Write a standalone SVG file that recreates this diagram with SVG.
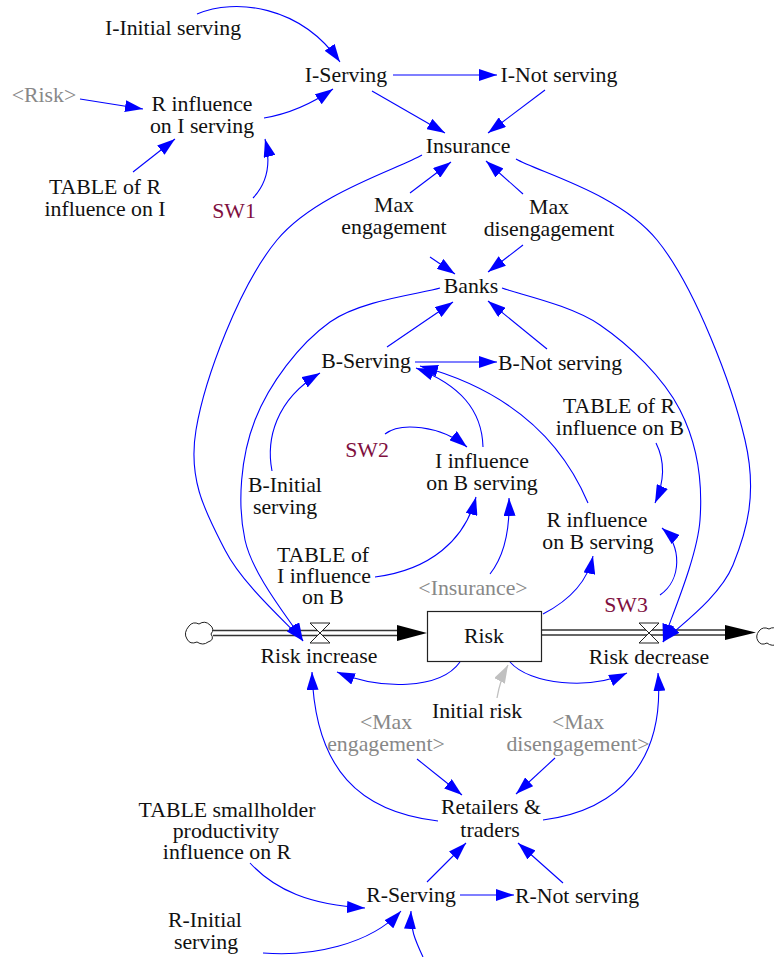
<svg xmlns="http://www.w3.org/2000/svg" width="774" height="957" viewBox="0 0 774 957">
<style>
text{font-family:"Liberation Serif","Times New Roman",serif;font-size:21.8px;text-anchor:middle;fill:#111}
.g{fill:#888}
.sw{fill:#80103f}
.c path{fill:none;stroke:#0000ff;stroke-width:1.1}
.c path.gr{stroke:#c0c0c0;stroke-width:1.3}
.pipe{stroke:#333;stroke-width:1.4}
</style>
<defs>
<marker id="a" viewBox="0 0 18 12" refX="18" refY="6" markerWidth="18" markerHeight="12" markerUnits="userSpaceOnUse" orient="auto"><path d="M0,0 L18,6 L0,12 z" fill="#0000ff"/></marker>
<marker id="ag" viewBox="0 0 18 12" refX="18" refY="6" markerWidth="18" markerHeight="12" markerUnits="userSpaceOnUse" orient="auto"><path d="M0,0 L18,6 L0,12 z" fill="#c0c0c0"/></marker>
</defs>
<rect width="774" height="957" fill="#fff"/>

<g id="flows">
<path d="M189,626 Q193,621 199,624 Q205,620 210,625 Q215,629 211,634 Q215,640 208,642 Q203,646 197,642 Q190,645 187,639 Q183,633 189,626 Z" fill="#fff" stroke="#222" stroke-width="1"/>
<line class="pipe" x1="213" y1="630.5" x2="400" y2="630.5"/>
<line class="pipe" x1="213" y1="635.5" x2="400" y2="635.5"/>
<path d="M397,625 L427,633 L397,641 Z" fill="#000"/>
<path d="M310,623 L330,623 L310,643 L330,643 Z" fill="#fff" stroke="#222" stroke-width="1"/>
<line class="pipe" x1="542" y1="630" x2="728" y2="630"/>
<line class="pipe" x1="542" y1="635" x2="728" y2="635"/>
<path d="M725,625 L756,632.5 L725,640 Z" fill="#000"/>
<path d="M639,623 L659,623 L639,643 L659,643 Z" fill="#fff" stroke="#222" stroke-width="1"/>
<path d="M759,631 Q763,626 769,629 Q774,626 778,630 L778,644 Q772,647 767,643 Q761,646 758,641 Q755,636 759,631 Z" fill="#fff" stroke="#222" stroke-width="1"/>
</g>

<g class="c" id="connectors">
<path d="M197,14 C235,-2 300,5 340,62" marker-end="url(#a)"/>
<path d="M80,99 L143,109" marker-end="url(#a)"/>
<path d="M264,118 Q300,112 333,89" marker-end="url(#a)"/>
<path d="M133,172 L175,139" marker-end="url(#a)"/>
<path d="M253,198 C270,180 270,158 265,139" marker-end="url(#a)"/>
<path d="M393,75 L497,75" marker-end="url(#a)"/>
<path d="M372,91 L445,133" marker-end="url(#a)"/>
<path d="M545,90 L488,133" marker-end="url(#a)"/>
<path d="M410,193 L451,162" marker-end="url(#a)"/>
<path d="M523,194 L486,161" marker-end="url(#a)"/>
<path d="M422,155 C398,169 314.7,194.2 277,240 C239.3,285.8 204.7,378.3 196,430 C187.3,481.7 207.2,514.8 225,550 C242.8,585.2 290,625.8 303,641" marker-end="url(#a)"/>
<path d="M516,159 C539.5,172.5 618.8,193.2 657,240 C695.2,286.8 732.3,385.8 745,440 C757.7,494.2 746.7,531.3 733,565 C719.3,598.7 674.7,629.2 663,642" marker-end="url(#a)"/>
<path d="M440,288 C421.7,293.7 360.8,300 330,322 C299.2,344 269.2,383.7 255,420 C240.8,456.3 237,503.2 245,540 C253,576.8 293.3,624.2 303,641" marker-end="url(#a)"/>
<path d="M502,288 C518.3,294.2 570.3,304.7 600,325 C629.7,345.3 663.3,377.5 680,410 C696.7,442.5 702.8,481.3 700,520 C697.2,558.7 669.2,621.7 663,642" marker-end="url(#a)"/>
<path d="M430,257 L455,274" marker-end="url(#a)"/>
<path d="M523,245 L488,272" marker-end="url(#a)"/>
<path d="M387,347 L453,302" marker-end="url(#a)"/>
<path d="M547,349 L488,301" marker-end="url(#a)"/>
<path d="M415,362 L497,362" marker-end="url(#a)"/>
<path d="M272,471 C266,440 275,400 320,373" marker-end="url(#a)"/>
<path d="M483,447 C482,410 460,385 416,368" marker-end="url(#a)"/>
<path d="M588,503 C555,425 490,385 420,366" marker-end="url(#a)"/>
<path d="M385,434 C400,422 440,425 467,447" marker-end="url(#a)"/>
<path d="M375,577 C430,570 465,540 476,497" marker-end="url(#a)"/>
<path d="M490,574 C505,555 510,530 509,498" marker-end="url(#a)"/>
<path d="M656,443 C667,465 663,485 655,503" marker-end="url(#a)"/>
<path d="M660,595 C682,580 682,545 662,528" marker-end="url(#a)"/>
<path d="M543,614 C570,600 588,580 593,556" marker-end="url(#a)"/>
<path d="M460,662 C440,690 380,690 337,672" marker-end="url(#a)"/>
<path d="M510,662 C530,685 590,690 627,673" marker-end="url(#a)"/>
<path class="gr" d="M497,698 Q500,680 508,665" marker-end="url(#ag)"/>
<path d="M438,821 C360,812 315,770 312,672" marker-end="url(#a)"/>
<path d="M543,820 C620,810 665,760 658,673" marker-end="url(#a)"/>
<path d="M417,759 L462,795" marker-end="url(#a)"/>
<path d="M555,758 L516,794" marker-end="url(#a)"/>
<path d="M427,882 L466,843" marker-end="url(#a)"/>
<path d="M563,883 L518,843" marker-end="url(#a)"/>
<path d="M460,895 L514,895" marker-end="url(#a)"/>
<path d="M250,863 C275,890 310,905 365,908" marker-end="url(#a)"/>
<path d="M263,953 C310,957 370,945 401,911" marker-end="url(#a)"/>
<path d="M423,957 C415,940 410,928 411,911" marker-end="url(#a)"/>
</g>

<g id="n-i-initial"><text x="173" y="35">I-Initial serving</text></g>
<g id="n-i-serving"><text x="346" y="82">I-Serving</text></g>
<g id="n-i-not"><text x="559" y="82">I-Not serving</text></g>
<g id="n-risk-shadow1"><text class="g" x="44" y="102">&lt;Risk&gt;</text></g>
<g id="n-r-inf-i"><text x="202" y="111">R influence</text><text x="202" y="133">on I serving</text></g>
<g id="n-table-r-i"><text x="105" y="194">TABLE of R</text><text x="105" y="216">influence on I</text></g>
<g id="n-sw1"><text class="sw" x="234" y="218">SW1</text></g>
<g id="n-insurance"><text x="468" y="153">Insurance</text></g>
<g id="n-max-eng"><text x="394" y="212">Max</text><text x="394" y="234">engagement</text></g>
<g id="n-max-dis"><text x="549" y="214">Max</text><text x="549" y="236">disengagement</text></g>
<g id="n-banks"><text x="471" y="293">Banks</text></g>
<g id="n-b-serving"><text x="366" y="368">B-Serving</text></g>
<g id="n-b-not"><text x="560" y="370">B-Not serving</text></g>
<g id="n-table-r-b"><text x="619" y="413">TABLE of R</text><text x="620" y="435">influence on B</text></g>
<g id="n-sw2"><text class="sw" x="367" y="457">SW2</text></g>
<g id="n-i-inf-b"><text x="482" y="468">I influence</text><text x="482" y="490">on B serving</text></g>
<g id="n-b-initial"><text x="285" y="492">B-Initial</text><text x="285" y="514">serving</text></g>
<g id="n-r-inf-b"><text x="597" y="527">R influence</text><text x="598" y="549">on B serving</text></g>
<g id="n-table-i-b"><text x="323" y="562">TABLE of</text><text x="324" y="583">I influence</text><text x="323" y="604">on B</text></g>
<g id="n-insurance-shadow"><text class="g" x="473" y="595">&lt;Insurance&gt;</text></g>
<g id="n-sw3"><text class="sw" x="626" y="612">SW3</text></g>
<g id="n-risk"><rect x="427.5" y="611.5" width="114" height="50" fill="#fff" stroke="#222" stroke-width="1.2"/><text x="484" y="643">Risk</text></g>
<g id="n-risk-inc"><text x="319" y="663">Risk increase</text></g>
<g id="n-risk-dec"><text x="649" y="664">Risk decrease</text></g>
<g id="n-initial-risk"><text x="477" y="718">Initial risk</text></g>
<g id="n-max-eng-shadow"><text class="g" x="386" y="729">&lt;Max</text><text class="g" x="386" y="751">engagement&gt;</text></g>
<g id="n-max-dis-shadow"><text class="g" x="578" y="729">&lt;Max</text><text class="g" x="578" y="751">disengagement&gt;</text></g>
<g id="n-retailers"><text x="491" y="814">Retailers &amp;</text><text x="490" y="837">traders</text></g>
<g id="n-table-small"><text x="227" y="817">TABLE smallholder</text><text x="226" y="838">productivity</text><text x="227" y="859">influence on R</text></g>
<g id="n-r-serving"><text x="411" y="902">R-Serving</text></g>
<g id="n-r-not"><text x="577" y="903">R-Not serving</text></g>
<g id="n-r-initial"><text x="205" y="927">R-Initial</text><text x="206" y="949">serving</text></g>
</svg>
